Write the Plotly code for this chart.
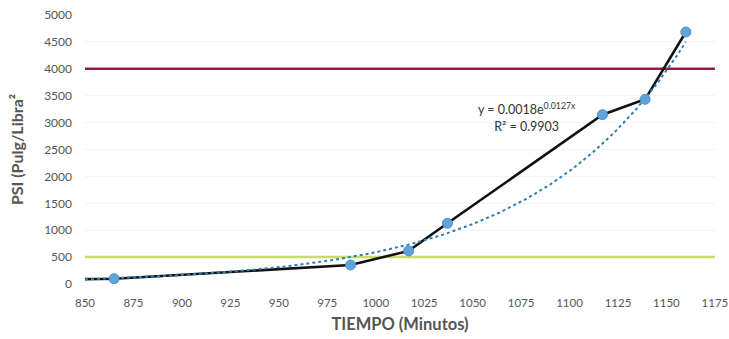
import numpy as np
import plotly.graph_objects as go

# Data
tiempo = [865, 987, 1017, 1037, 1117, 1139, 1160]
psi = [98, 353, 615, 1128, 3147, 3433, 4684]
line_start_x = 850
line_start_y = 90
limite_sup = 4000
limite_inf = 500
trend_a = 0.0018
trend_b = 0.0127
x_ticks = [850, 875, 900, 925, 950, 975, 1000, 1025, 1050, 1075, 1100, 1125, 1150, 1175]
y_ticks = [0, 500, 1000, 1500, 2000, 2500, 3000, 3500, 4000, 4500, 5000]

font_fam = "Lato, 'Open Sans', sans-serif"
fig = go.Figure()

# horizontal reference lines
fig.add_trace(go.Scatter(x=[850, 1175], y=[limite_sup, limite_sup], mode="lines",
                         line=dict(color="#8A1F3C", width=2.5), showlegend=False, hoverinfo="skip"))
fig.add_trace(go.Scatter(x=[850, 1175], y=[limite_inf, limite_inf], mode="lines",
                         line=dict(color="#C8DC6E", width=2.5), showlegend=False, hoverinfo="skip"))

# main black line
fig.add_trace(go.Scatter(x=[line_start_x] + tiempo, y=[line_start_y] + psi, mode="lines",
                         line=dict(color="#111111", width=2.6), showlegend=False))

# exponential trendline from the displayed equation
tx = np.linspace(850, tiempo[-1], 200)
ty = trend_a * np.exp(trend_b * tx)
fig.add_trace(go.Scatter(x=tx, y=ty, mode="lines",
                         line=dict(color="#2E7FB0", width=2, dash="dot"), showlegend=False, hoverinfo="skip"))

# markers
fig.add_trace(go.Scatter(x=tiempo, y=psi, mode="markers",
                         marker=dict(color="#5FA3DC", size=10, line=dict(color="#4A90C8", width=1)),
                         showlegend=False))

fig.add_annotation(x=1078, y=3100, xref="x", yref="y",
                   text="y = 0.0018e<sup>0.0127x</sup><br>R² = 0.9903",
                   showarrow=False, align="center",
                   font=dict(family=font_fam, size=12.5, color="#333333"))

fig.update_xaxes(range=[850, 1175.05], tickvals=x_ticks, showgrid=False, zeroline=False,
                 showline=False, ticks="", ticklabelstandoff=10, ticklabeloverflow="allow",
                 automargin=False,
                 tickfont=dict(family=font_fam, size=11.5, color="#555555"),
                 title=dict(text="<b>TIEMPO (Minutos)</b>", standoff=10,
                            font=dict(family=font_fam, size=16.5, color="#555555")))
fig.update_yaxes(range=[0, 5000], tickvals=y_ticks, showgrid=True, gridcolor="#F1F4F6",
                 zeroline=False, showline=False, ticks="", ticklabelstandoff=12,
                 automargin=False,
                 tickfont=dict(family=font_fam, size=12, color="#555555"),
                 title=dict(text="<b>PSI (Pulg/Libra²</b>", standoff=16,
                            font=dict(family=font_fam, size=16, color="#555555")))

fig.update_layout(width=729, height=339, margin=dict(l=85, r=14, t=15, b=55),
                  paper_bgcolor="white", plot_bgcolor="white")

fig.write_html("out.html", config={"displayModeBar": False},
               post_script="document.body.style.margin='0';document.body.style.overflow='hidden';")
